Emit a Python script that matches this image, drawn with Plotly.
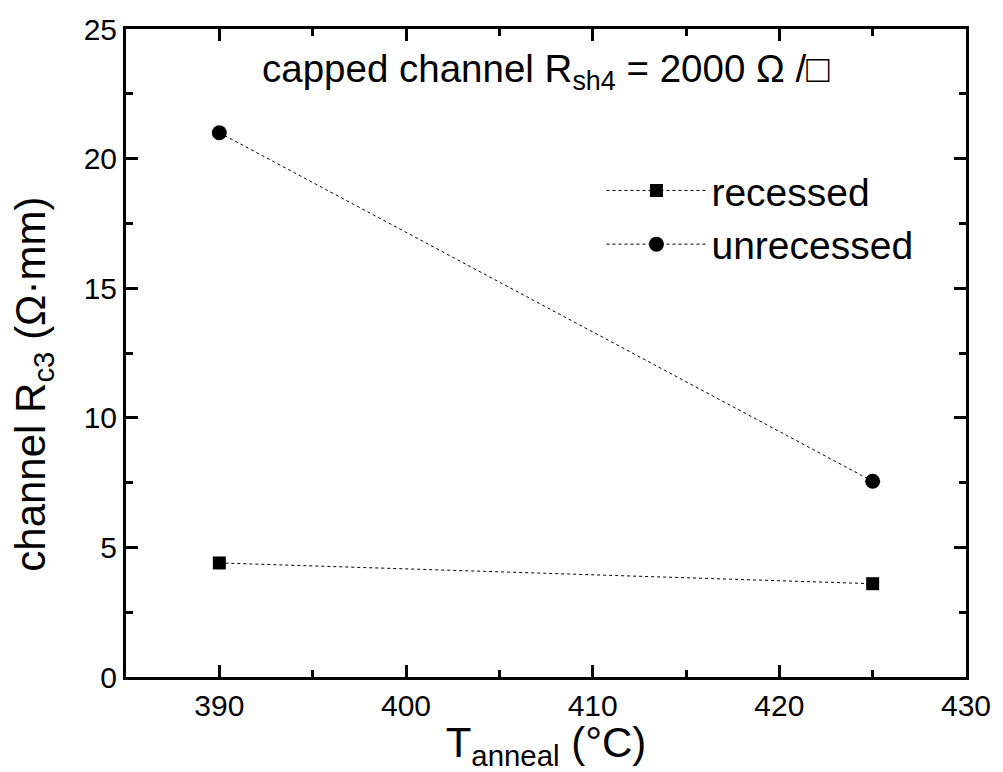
import plotly.graph_objects as go

t_anneal = [390, 425]
recessed = [4.4, 3.6]
unrecessed = [21.0, 7.55]

series_names = ["recessed", "unrecessed"]
title_text = "capped channel R<sub>sh4</sub> = 2000 Ω /□"
x_title = "T<sub>anneal</sub> (°C)"
y_title = "channel R<sub>c3</sub> (Ω·mm)"

FONT = "Liberation Sans, Arial, Helvetica, sans-serif"

fig = go.Figure()
fig.add_trace(go.Scatter(
    x=t_anneal, y=recessed, name=series_names[0], mode="lines+markers",
    line=dict(color="black", width=1, dash="dot"),
    marker=dict(symbol="square", size=13, color="black"),
))
fig.add_trace(go.Scatter(
    x=t_anneal, y=unrecessed, name=series_names[1], mode="lines+markers",
    line=dict(color="black", width=1, dash="dot"),
    marker=dict(symbol="circle", size=15, color="black"),
))

axis_common = dict(
    showline=True, linecolor="black", linewidth=3, mirror="ticks",
    ticks="inside", ticklen=12, tickwidth=2.5, tickcolor="black",
    showgrid=False, zeroline=False,
    tickfont=dict(family=FONT, size=30, color="black"),
)

fig.update_xaxes(range=[385, 430], dtick=10, tick0=390,
                 title=dict(text=x_title, font=dict(family=FONT, size=42, color="black"), standoff=1),
                 minor=dict(ticks="inside", ticklen=7, tickwidth=2.5, tickcolor="black",
                            showgrid=False, dtick=5, tick0=385),
                 **axis_common)
fig.update_yaxes(range=[0, 25], dtick=5,
                 minor=dict(ticks="inside", ticklen=7, tickwidth=2.5, tickcolor="black",
                            showgrid=False, dtick=2.5, tick0=0),
                 **axis_common)

# y-axis title as rotated annotation (placed slightly below plot centre, as in the reference)
fig.add_annotation(text=y_title, xref="paper", yref="paper", x=-0.110, y=0.452,
                   xanchor="center", yanchor="middle", textangle=-90, showarrow=False,
                   font=dict(family=FONT, size=42, color="black"))

fig.add_annotation(text=title_text, xref="paper", yref="paper", x=0.5, y=0.935,
                   xanchor="center", yanchor="middle", showarrow=False,
                   font=dict(family=FONT, size=38.5, color="black"))

fig.update_layout(
    width=1003, height=772,
    margin=dict(l=126, r=31, t=20, b=95),
    paper_bgcolor="white", plot_bgcolor="white",
    font=dict(family=FONT, color="black"),
    legend=dict(x=0.566, y=0.80, xanchor="left", yanchor="top",
                font=dict(family=FONT, size=39, color="black"),
                bgcolor="rgba(0,0,0,0)", itemwidth=100),
    showlegend=True,
)

fig.write_html("out.html")
